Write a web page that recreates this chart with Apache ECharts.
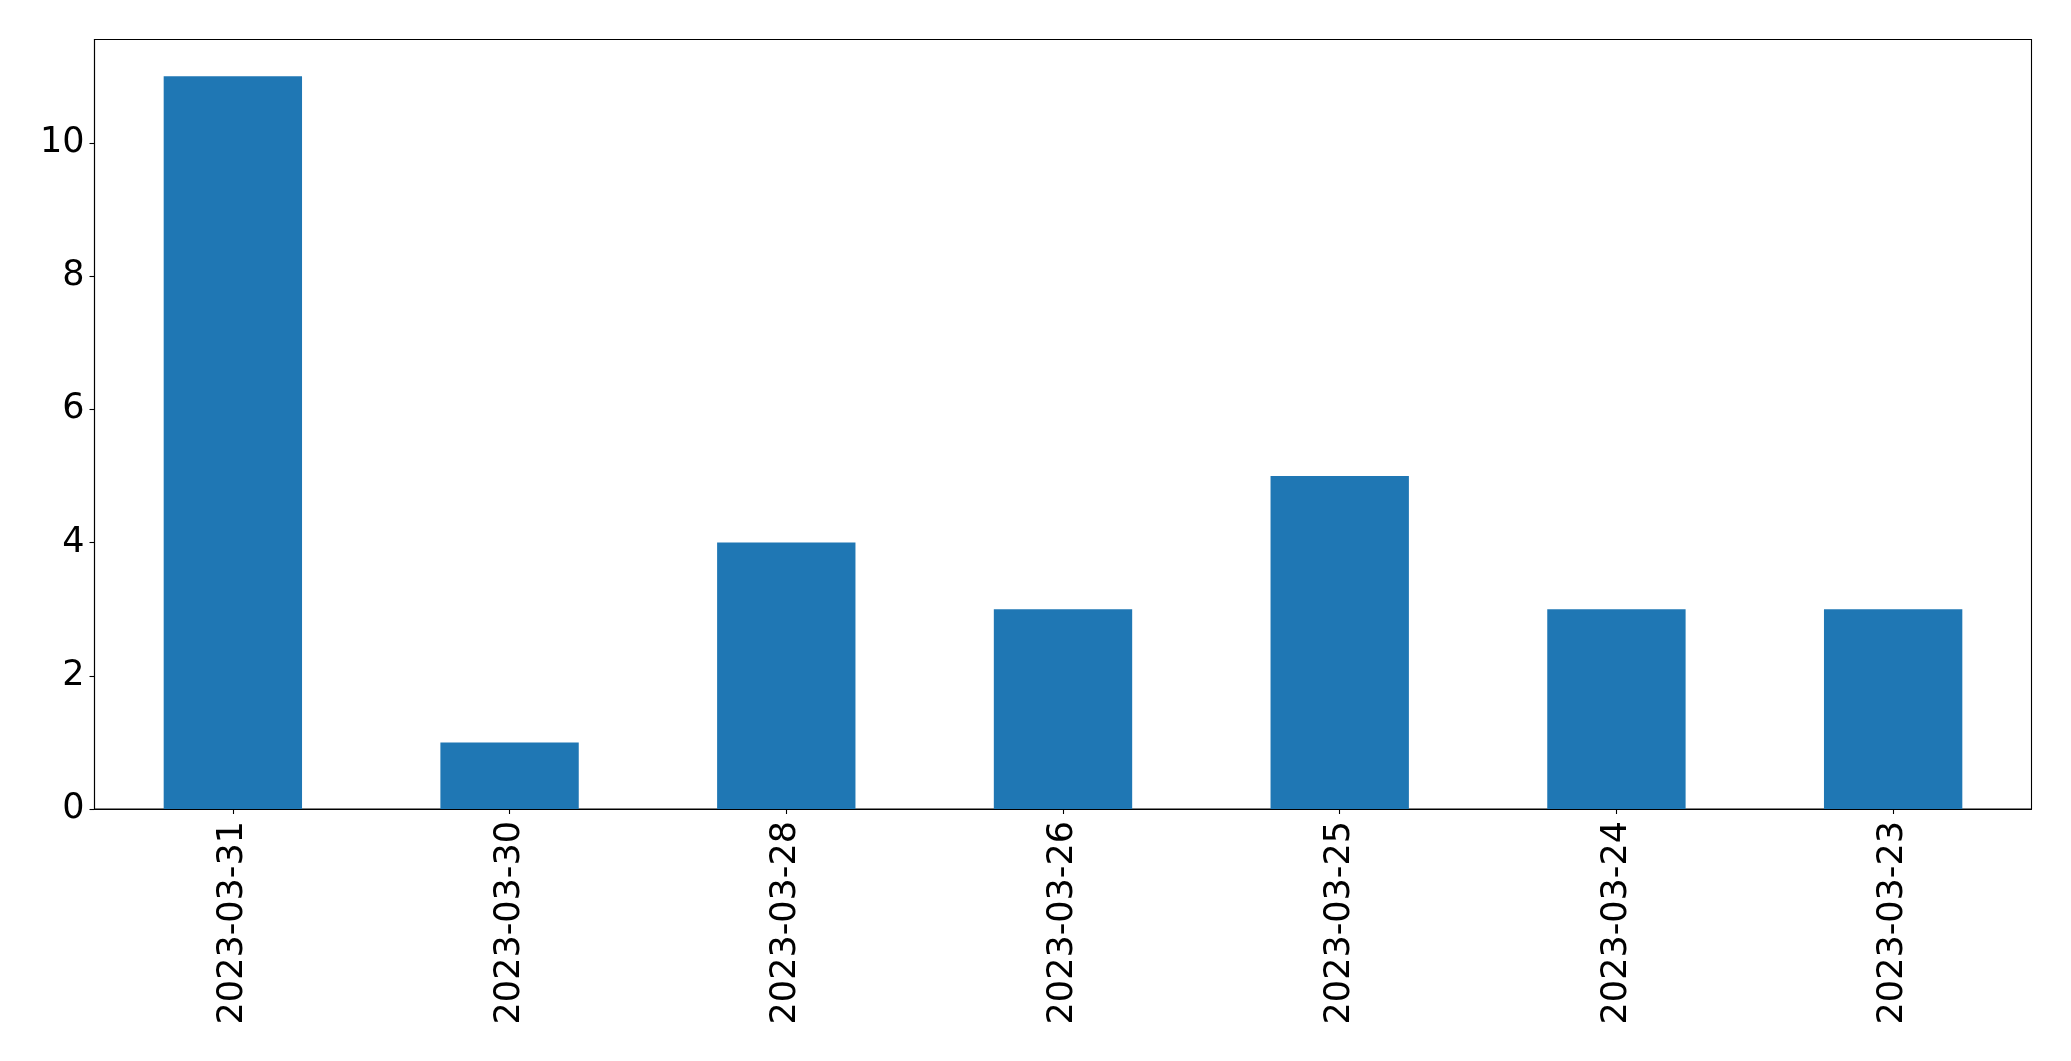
<!DOCTYPE html>
<html>
<head>
<meta charset="utf-8">
<script src="https://cdn.jsdelivr.net/npm/echarts@6/dist/echarts.min.js"></script>
<style>
html,body{margin:0;padding:0;background:#fff;}
#chart{width:2071px;height:1061px;}
</style>
</head>
<body>
<div id="chart"></div>
<script>
const categories = ['2023-03-31','2023-03-30','2023-03-28','2023-03-26','2023-03-25','2023-03-24','2023-03-23'];
const counts = [11, 1, 4, 3, 5, 3, 3];
const yTicks = [0, 2, 4, 6, 8, 10];
const yMax = 11.55;

const chart = echarts.init(document.getElementById('chart'), null, {renderer: 'canvas'});
const font = 'DejaVu Sans';
chart.setOption({
  animation: false,
  backgroundColor: '#ffffff',
  grid: {
    left: 94.5, top: 39.5, right: 39.5, bottom: 252,
    show: true, borderColor: '#000', borderWidth: 1.1, backgroundColor: 'transparent'
  },
  xAxis: {
    type: 'category',
    data: categories,
    axisLine: {show: true, lineStyle: {color: '#000', width: 1.1}},
    axisTick: {show: true, alignWithLabel: true, length: 5, lineStyle: {color: '#000', width: 1.1}},
    axisLabel: {rotate: 90, fontFamily: font, fontSize: 35, color: '#000', margin: 12, interval: 0},
    splitLine: {show: false}
  },
  yAxis: {
    type: 'value',
    min: 0, max: yMax,
    axisLine: {show: true, lineStyle: {color: '#000', width: 1.1}},
    axisTick: {show: true, length: 5, customValues: yTicks, lineStyle: {color: '#000', width: 1.1}},
    axisLabel: {fontFamily: font, fontSize: 35, color: '#000', margin: 10, customValues: yTicks},
    splitLine: {show: false}
  },
  series: [{
    type: 'bar',
    data: counts,
    barWidth: '50%',
    itemStyle: {color: '#1f77b4'}
  }]
});
</script>
</body>
</html>
